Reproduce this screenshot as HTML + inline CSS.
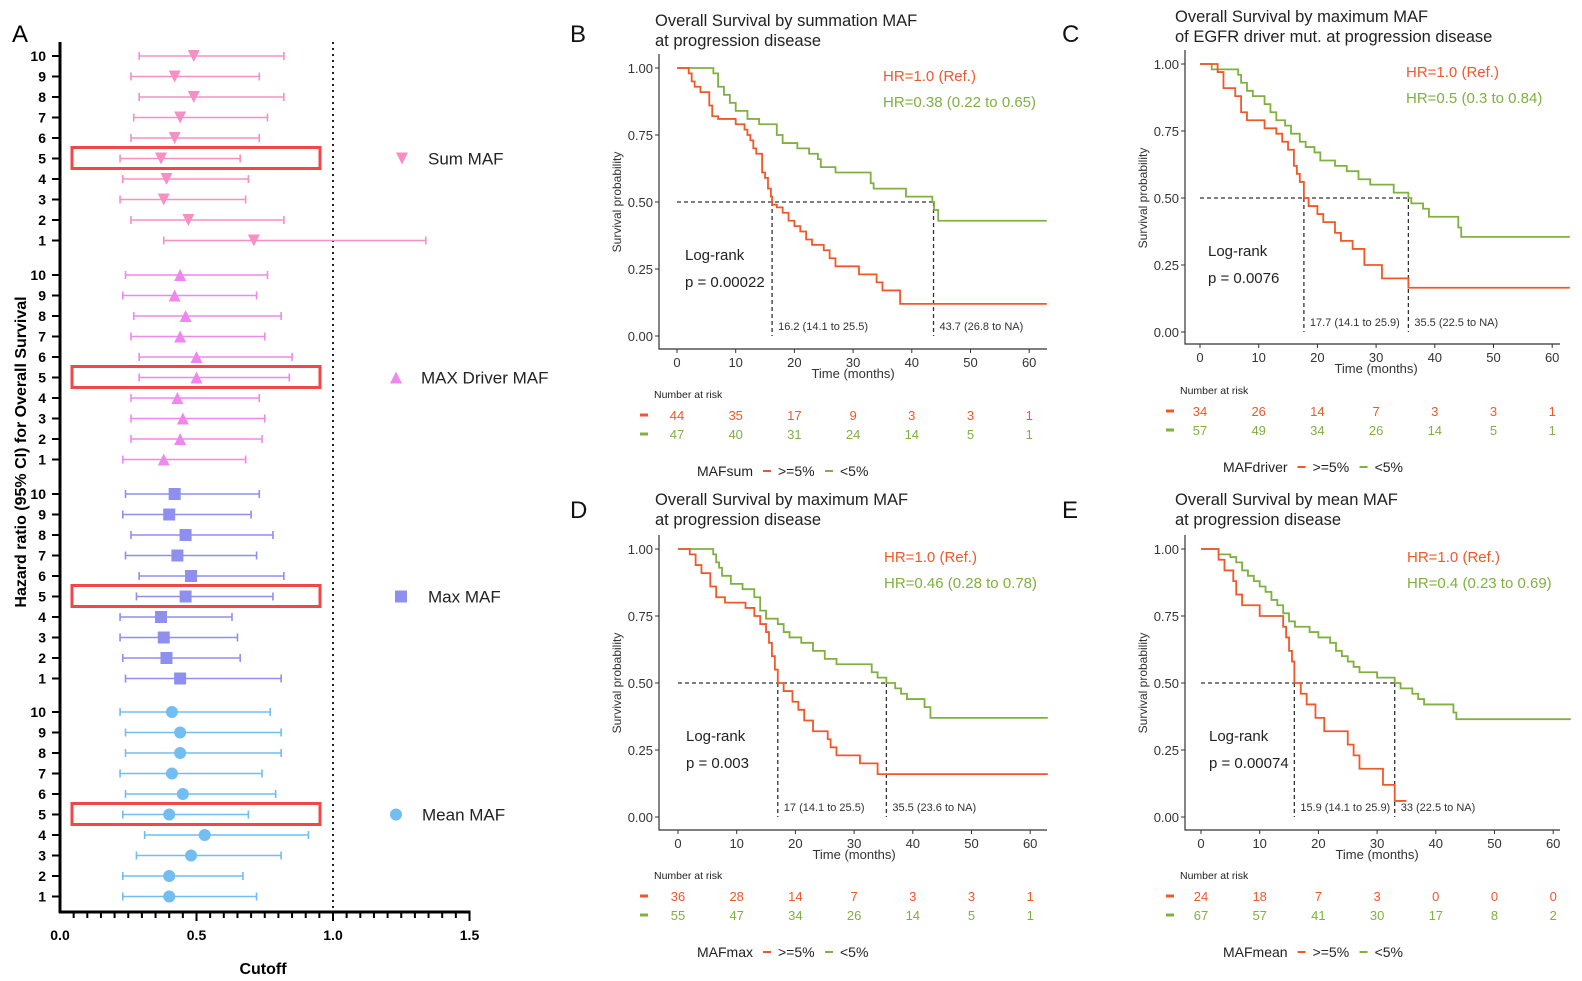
<!DOCTYPE html>
<html><head><meta charset="utf-8">
<style>
html,body{margin:0;padding:0;background:#fff;}
svg{display:block;font-family:"Liberation Sans",Arial,sans-serif;}
</style></head>
<body>
<svg id="fig" width="1582" height="981" viewBox="0 0 1582 981"></svg>
<script>
// ---------- Panel A data ----------
const cutoffs = [10,9,8,7,6,5,4,3,2,1];
const groupNames = ["Sum MAF","MAX Driver MAF","Max MAF","Mean MAF"];
const sumHR = [0.49,0.42,0.49,0.44,0.42,0.37,0.39,0.38,0.47,0.71];
const sumLo = [0.29,0.26,0.29,0.27,0.26,0.22,0.23,0.22,0.26,0.38];
const sumHi = [0.82,0.73,0.82,0.76,0.73,0.66,0.69,0.68,0.82,1.34];
const drvHR = [0.44,0.42,0.46,0.44,0.50,0.50,0.43,0.45,0.44,0.38];
const drvLo = [0.24,0.23,0.27,0.26,0.29,0.29,0.26,0.26,0.26,0.23];
const drvHi = [0.76,0.72,0.81,0.75,0.85,0.84,0.73,0.75,0.74,0.68];
const maxHR = [0.42,0.40,0.46,0.43,0.48,0.46,0.37,0.38,0.39,0.44];
const maxLo = [0.24,0.23,0.26,0.24,0.29,0.28,0.22,0.22,0.23,0.24];
const maxHi = [0.73,0.70,0.78,0.72,0.82,0.78,0.63,0.65,0.66,0.81];
const meanHR = [0.41,0.44,0.44,0.41,0.45,0.40,0.53,0.48,0.40,0.40];
const meanLo = [0.22,0.24,0.24,0.22,0.24,0.23,0.31,0.28,0.23,0.23];
const meanHi = [0.77,0.81,0.81,0.74,0.79,0.69,0.91,0.81,0.67,0.72];
const xTicksA = [0,0.5,1.0,1.5];
const xTickLabelsA = ["0.0","0.5","1.0","1.5"];

// ---------- KM data ----------
const timeTicks = [0,10,20,30,40,50,60];
const survTicks = [0,0.25,0.5,0.75,1];
const survTickLabels = ["0.00","0.25","0.50","0.75","1.00"];
const bRedT = [0,2,2.5,3,4,5.5,6,7,10,11.5,12,12.5,13,13.5,14.5,15,15.5,16,16.2,17,18,19,20,21,22,23,25,26,27,31,34,35,38,63];
const bRedS = [1,0.98,0.95,0.93,0.91,0.86,0.82,0.81,0.79,0.77,0.75,0.73,0.70,0.68,0.61,0.59,0.55,0.52,0.49,0.48,0.46,0.43,0.41,0.39,0.36,0.34,0.32,0.29,0.26,0.23,0.20,0.17,0.12,0.12];
const bGrnT = [0,6.2,7,8,9,10,12,14,17,18,20.5,22.5,24,24.5,27,33,33.5,39,43.5,43.8,44.5,63];
const bGrnS = [1,0.98,0.93,0.90,0.87,0.84,0.81,0.79,0.75,0.72,0.70,0.68,0.66,0.63,0.61,0.57,0.55,0.52,0.50,0.47,0.43,0.43];
const cRedT = [0,3,4,6,7,8,11,13,14,15,16,16.5,17,17.7,18.5,20,21,23,24,26,28,31,35.5,63];
const cRedS = [1,0.97,0.91,0.88,0.82,0.79,0.76,0.74,0.71,0.68,0.62,0.59,0.56,0.50,0.47,0.44,0.41,0.37,0.34,0.31,0.25,0.20,0.165,0.165];
const cGrnT = [0,2,6.5,7,8,9,11,12,13,14.5,15.5,17,18,19.5,20.5,23,25,27,29,33,35.5,36,38,39,44,44.5,63];
const cGrnS = [1,0.98,0.96,0.93,0.90,0.88,0.85,0.82,0.79,0.77,0.74,0.71,0.69,0.67,0.64,0.62,0.60,0.57,0.55,0.52,0.50,0.48,0.46,0.43,0.39,0.355,0.355];
const dRedT = [0,2,3,4,5.5,6.5,8,11.5,13,14,15,15.5,16,16.5,17,18,19.5,20.5,21.5,23,25.5,26,27,31,34,63];
const dRedS = [1,0.98,0.94,0.91,0.86,0.82,0.80,0.78,0.75,0.72,0.69,0.65,0.60,0.55,0.50,0.47,0.43,0.40,0.36,0.32,0.29,0.26,0.23,0.20,0.16,0.16];
const dGrnT = [0,6,6.5,7,7.5,9,11,13,14,15,17,18,19,21,23,25,27,33,34,35.5,37,38,39,42,43,63];
const dGrnS = [1,0.98,0.95,0.93,0.90,0.87,0.85,0.82,0.77,0.74,0.72,0.69,0.67,0.65,0.62,0.59,0.57,0.54,0.52,0.50,0.48,0.46,0.44,0.41,0.37,0.37];
const eRedT = [0,3,4,5.5,6,7,10,14,14.5,15,15.5,15.9,17,18,19.5,21,25,26,27,31,33,35];
const eRedS = [1,0.96,0.92,0.88,0.83,0.79,0.75,0.71,0.67,0.62,0.58,0.50,0.46,0.42,0.37,0.32,0.27,0.23,0.18,0.12,0.06,0.06];
const eGrnT = [0,3,5,6,7,8,9,10,11,12,13,14,15,16,18.5,20,22,23,24,25,26,27,30,33,34,36,37,38,43,43.5,63];
const eGrnS = [1,0.98,0.97,0.95,0.92,0.90,0.88,0.86,0.84,0.81,0.79,0.76,0.73,0.71,0.69,0.67,0.65,0.62,0.60,0.58,0.56,0.54,0.52,0.50,0.48,0.46,0.44,0.42,0.39,0.365,0.365];
const bRiskRed = [44,35,17,9,3,3,1], bRiskGrn = [47,40,31,24,14,5,1];
const cRiskRed = [34,26,14,7,3,3,1], cRiskGrn = [57,49,34,26,14,5,1];
const dRiskRed = [36,28,14,7,3,3,1], dRiskGrn = [55,47,34,26,14,5,1];
const eRiskRed = [24,18,7,3,0,0,0], eRiskGrn = [67,57,41,30,17,8,2];
const bMedians = [16.2,43.7], cMedians = [17.7,35.5], dMedians = [17,35.5], eMedians = [15.9,33];

const NS = "http://www.w3.org/2000/svg";
const svg = document.getElementById("fig");
function mk(tag, attrs, parent, text){
  const e = document.createElementNS(NS, tag);
  for (const k in attrs) e.setAttribute(k, attrs[k]);
  if (text !== undefined) e.textContent = text;
  (parent || svg).appendChild(e);
  return e;
}

// ---------- Panel A ----------
const gA = mk("g", {});


const axL = 60, axB = 912;
const xA = v => 60 + v * 273;
const groupTop = [56, 275, 494, 712];
const rowY = (g, i) => groupTop[g] + i * 20.5;
let t = mk("text", {x:12, y:42, "font-size":24}, gA, "A");
 
let l = mk("line", {x1:xA(1), x2:xA(1), y1:42, y2:axB, stroke:"#222", "stroke-width":2, "stroke-dasharray":"2,4"}, gA);
 
l = mk("line", {x1:axL, x2:axL, y1:42, y2:axB+1, stroke:"#000", "stroke-width":3}, gA);
 
l = mk("line", {x1:axL-1, x2:xA(1.5)+1, y1:axB, y2:axB, stroke:"#000", "stroke-width":3}, gA);
 
for (let k = 1; k <= 30; k++) {
  const v = k * 0.05, major = (k % 10 === 0);
  l = mk("line", {x1:xA(v), x2:xA(v), y1:axB, y2:axB + (major ? 9 : 6), stroke:"#000", "stroke-width":2}, gA);
   
}
xTicksA.forEach((v, i) => {
  const tt = mk("text", {x:xA(v), y:940, "font-size":14, "font-weight":"bold", "text-anchor":"middle"}, gA, xTickLabelsA[i]);
   
});
t = mk("text", {x:263, y:974, "font-size":16, "font-weight":"bold", "text-anchor":"middle"}, gA, "Cutoff");
 
t = mk("text", {x:0, y:0, "font-size":16, "font-weight":"bold", "text-anchor":"middle", transform:"translate(26,452) rotate(-90)"}, gA, "Hazard ratio (95% CI) for Overall Survival");
 

const groups = [
  {hr:sumHR, lo:sumLo, hi:sumHi, col:"#f78fc4", shape:"down", lx:402, tx:428, name:"sum-maf"},
  {hr:drvHR, lo:drvLo, hi:drvHi, col:"#ee88ee", shape:"up", lx:396, tx:421, name:"max-driver-maf"},
  {hr:maxHR, lo:maxLo, hi:maxHi, col:"#8f8ff0", shape:"square", lx:401, tx:428, name:"max-maf"},
  {hr:meanHR, lo:meanLo, hi:meanHi, col:"#72bdf2", shape:"circle", lx:396, tx:422, name:"mean-maf"}
];
function marker(shape, x, y, col, parent, s){
  s = s || 6;
  if (shape === "down") return mk("polygon", {points:`${x-s},${y-s} ${x+s},${y-s} ${x},${y+s}`, fill:col}, parent);
  if (shape === "up") return mk("polygon", {points:`${x-s},${y+s} ${x+s},${y+s} ${x},${y-s}`, fill:col}, parent);
  if (shape === "square") return mk("rect", {x:x-s, y:y-s, width:2*s, height:2*s, fill:col}, parent);
  return mk("circle", {cx:x, cy:y, r:s, fill:col}, parent);
}
groups.forEach((g, gi) => {
  const gg = mk("g", {}, gA);
   
  cutoffs.forEach((c, i) => {
    const y = rowY(gi, i);
    const tk = mk("line", {x1:axL-8, x2:axL, y1:y, y2:y, stroke:"#000", "stroke-width":2}, gA);
     
    const tl = mk("text", {x:46, y:y+5, "font-size":14, "font-weight":"bold", "text-anchor":"end"}, gA, String(c));
     
    const x1 = xA(g.lo[i]), x2 = xA(g.hi[i]);
    const e = mk("path", {d:`M${x1},${y}H${x2}M${x1},${y-4}V${y+4}M${x2},${y-4}V${y+4}`, stroke:g.col, "stroke-width":1.6, fill:"none"}, gg);
     
    const m = marker(g.shape, xA(g.hr[i]), y, g.col, gg);
     
  });
  const y5 = rowY(gi, 5);
  const box = mk("rect", {x:72, y:y5-11, width:248, height:21, fill:"none", stroke:"#f04848", "stroke-width":3}, gA);
   
  const lg = mk("g", {}, gA);
   
  marker(g.shape, g.lx, y5, g.col, lg, 6);
  mk("text", {x:g.tx, y:y5+6, "font-size":17, fill:"#222"}, lg, groupNames[gi]);
});

// ---------- KM panels ----------
const RED = "#f0582a", GRN = "#7fb040";
const panels = [
  {L:"B", lx:570, ly:42, x0:677, y1:68, y0:336, axB:349, right:1047, axL:659, tx:655, ty:26,
   title:["Overall Survival by summation MAF","at progression disease"], hr:"HR=0.38 (0.22 to 0.65)", p:"p = 0.00022",
   rT:bRedT, rS:bRedS, gT:bGrnT, gS:bGrnS, rr:bRiskRed, rg:bRiskGrn, med:bMedians,
   medLab:["16.2 (14.1 to 25.5)","43.7 (26.8 to NA)"], leg:"MAFsum"},
  {L:"C", lx:1062, ly:42, x0:1200, y1:64, y0:332, axB:344, right:1560, axL:1185, tx:1175, ty:22,
   title:["Overall Survival by maximum MAF","of EGFR driver mut. at progression disease"], hr:"HR=0.5 (0.3 to 0.84)", p:"p = 0.0076",
   rT:cRedT, rS:cRedS, gT:cGrnT, gS:cGrnS, rr:cRiskRed, rg:cRiskGrn, med:cMedians,
   medLab:["17.7 (14.1 to 25.9)","35.5 (22.5 to NA)"], leg:"MAFdriver"},
  {L:"D", lx:570, ly:518, x0:678, y1:549, y0:817, axB:830, right:1047, axL:659, tx:655, ty:505,
   title:["Overall Survival by maximum MAF","at progression disease"], hr:"HR=0.46 (0.28 to 0.78)", p:"p = 0.003",
   rT:dRedT, rS:dRedS, gT:dGrnT, gS:dGrnS, rr:dRiskRed, rg:dRiskGrn, med:dMedians,
   medLab:["17 (14.1 to 25.5)","35.5 (23.6 to NA)"], leg:"MAFmax"},
  {L:"E", lx:1062, ly:518, x0:1201, y1:549, y0:817, axB:830, right:1560, axL:1185, tx:1175, ty:505,
   title:["Overall Survival by mean MAF","at progression disease"], hr:"HR=0.4 (0.23 to 0.69)", p:"p = 0.00074",
   rT:eRedT, rS:eRedS, gT:eGrnT, gS:eGrnS, rr:eRiskRed, rg:eRiskGrn, med:eMedians,
   medLab:["15.9 (14.1 to 25.9)","33 (22.5 to NA)"], leg:"MAFmean"}
];
const PXM = 5.87;
panels.forEach(P => {
  const g = mk("g", {});
  
  
  const X = tm => P.x0 + tm * PXM;
  const Y = s => P.y0 - s * (P.y0 - P.y1);
  let e = mk("text", {x:P.lx, y:P.ly, "font-size":24, fill:"#111"}, g, P.L);
   
  P.title.forEach((s, i) => {
    e = mk("text", {x:P.tx, y:P.ty + i * 20, "font-size":16.5, fill:"#222"}, g, s);
     
  });
  e = mk("path", {d:`M${P.axL},${P.y1-14}V${P.axB}H${P.right}`, stroke:"#333", "stroke-width":1.2, fill:"none"}, g);
   
  survTicks.forEach((v, i) => {
    const y = Y(v);
    mk("line", {x1:P.axL-4, x2:P.axL, y1:y, y2:y, stroke:"#333"}, g);
    e = mk("text", {x:P.axL-6, y:y+5, "font-size":13, "text-anchor":"end", fill:"#333"}, g, survTickLabels[i]);
     
  });
  timeTicks.forEach(v => {
    const x = X(v);
    mk("line", {x1:x, x2:x, y1:P.axB, y2:P.axB+4, stroke:"#333"}, g);
    e = mk("text", {x:x, y:P.axB+18, "font-size":13, "text-anchor":"middle", fill:"#333"}, g, String(v));
     
  });
  e = mk("text", {x:X(30), y:P.axB+29, "font-size":13, "text-anchor":"middle", fill:"#333"}, g, "Time (months)");
   
  e = mk("text", {x:0, y:0, "font-size":12, "text-anchor":"middle", fill:"#333", transform:`translate(${P.axL-38},${Y(0.5)}) rotate(-90)`}, g, "Survival probability");
   
  const m1 = P.med[0], m2 = P.med[1];
  e = mk("path", {d:`M${X(0)},${Y(0.5)}H${X(m2)}M${X(m1)},${Y(0.5)}V${P.y0}M${X(m2)},${Y(0.5)}V${P.y0}`, stroke:"#333", "stroke-width":1.3, "stroke-dasharray":"4,3", fill:"none"}, g);
   
  e = mk("text", {x:X(m1)+6, y:P.y0-6, "font-size":11, fill:"#333"}, g, P.medLab[0]);
   
  e = mk("text", {x:X(m2)+6, y:P.y0-6, "font-size":11, fill:"#333"}, g, P.medLab[1]);
   
  function step(T, S){
    let d = `M${X(T[0])},${Y(S[0])}`;
    for (let i = 1; i < T.length; i++) d += `H${X(T[i])}V${Y(S[i])}`;
    return d;
  }
  e = mk("path", {d:step(P.gT, P.gS), stroke:GRN, "stroke-width":1.8, fill:"none"}, g);
   
  e = mk("path", {d:step(P.rT, P.rS), stroke:RED, "stroke-width":1.8, fill:"none"}, g);
   
  e = mk("text", {x:P.x0+206, y:P.y1+13, "font-size":15, fill:RED}, g, "HR=1.0 (Ref.)");
   
  e = mk("text", {x:P.x0+206, y:P.y1+39, "font-size":15, fill:GRN}, g, P.hr);
   
  e = mk("text", {x:P.x0+8, y:P.y1+192, "font-size":15, fill:"#222"}, g, "Log-rank");
   
  e = mk("text", {x:P.x0+8, y:P.y1+219, "font-size":15, fill:"#222"}, g, P.p);
   
  e = mk("text", {x:P.axL-5, y:P.y1+330, "font-size":10.5, fill:"#222"}, g, "Number at risk");
   
  [[P.rr, RED, 352], [P.rg, GRN, 371]].forEach(([vals, col, off]) => {
    mk("line", {x1:P.axL-19, x2:P.axL-11, y1:P.y1+off-5, y2:P.y1+off-5, stroke:col, "stroke-width":3}, g);
    vals.forEach((v, i) => {
      const tt = mk("text", {x:X(timeTicks[i]), y:P.y1+off, "font-size":13, "text-anchor":"middle", fill:col}, g, String(v));
       
    });
  });
  const lg = mk("g", {}, g);
   
  const lx = P.axL + 38, ly = P.y1 + 408;
  const lt = mk("text", {x:lx, y:ly, "font-size":14, fill:"#222"}, lg, P.leg);
  const w = lt.getComputedTextLength ? lt.getComputedTextLength() : 56;
  const a = lx + w + 10;
  mk("line", {x1:a, x2:a+8, y1:ly-5, y2:ly-5, stroke:RED, "stroke-width":2}, lg);
  mk("text", {x:a+15, y:ly, "font-size":14, fill:"#222"}, lg, ">=5%");
  mk("line", {x1:a+62, x2:a+70, y1:ly-5, y2:ly-5, stroke:GRN, "stroke-width":2}, lg);
  mk("text", {x:a+77, y:ly, "font-size":14, fill:"#222"}, lg, "<5%");
});
</script>
</body></html>
